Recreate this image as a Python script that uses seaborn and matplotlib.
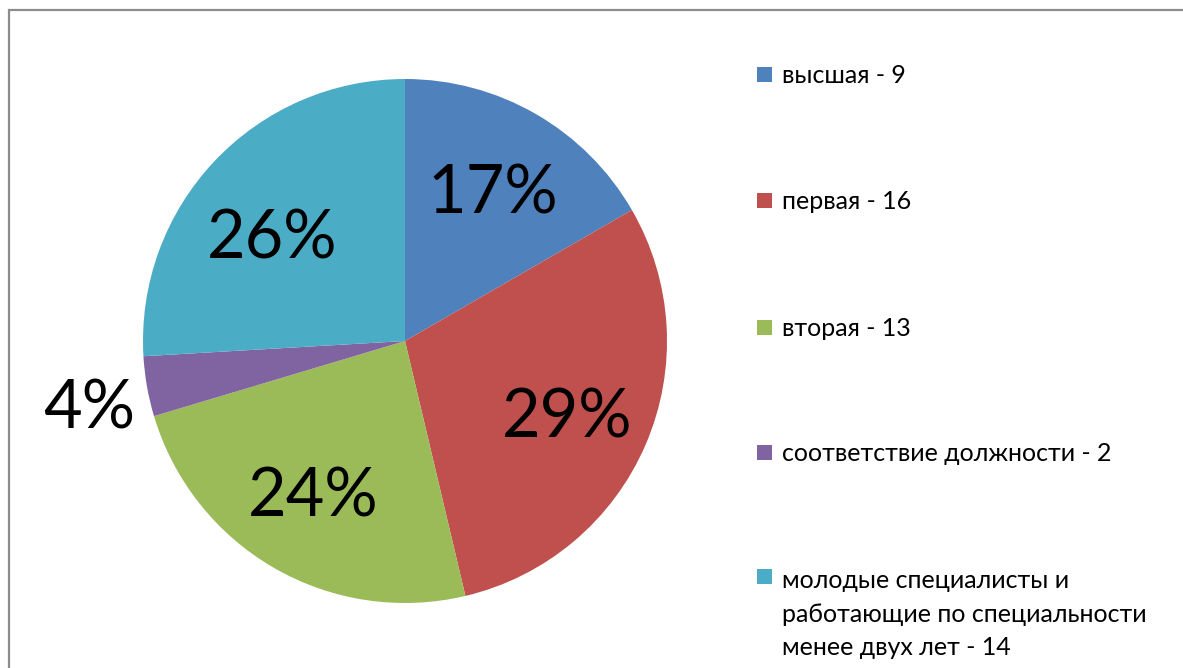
import matplotlib
matplotlib.use('Agg')

import numpy as np
import matplotlib.pyplot as plt
import seaborn as sns
from matplotlib.patches import Rectangle

# данные с диаграммы
categories = ["высшая - 9", "первая - 16", "вторая - 13",
              "соответствие должности - 2",
              "молодые специалисты и\nработающие по специальности\nменее двух лет - 14"]
counts = [9, 16, 13, 2, 14]
pct_labels = ["17%", "29%", "24%", "4%", "26%"]
colors = ["#4F81BD", "#C0504D", "#9BBB59", "#8064A2", "#4BACC6"]

# размещение подписей (доля радиуса, сдвиг угла в градусах)
label_dist = [0.668, 0.676, 0.678, 1.23, 0.649]
label_shift = [0, -0.7, -1.2, 1.4, 4.7]

sns.set_theme(style="white")
plt.rcParams['font.family'] = ['Lato', 'DejaVu Sans']

W, H = 1183, 668
fig = plt.figure(figsize=(W / 100, H / 100), dpi=100)

# рамка области диаграммы
fig.patches.append(Rectangle((9 / W, -0.1), 1.2, 1 - 10 / H + 0.1,
                             transform=fig.transFigure, fill=False,
                             edgecolor="#8c8c8c", linewidth=1.6))

cx, cy, r = 405, 341, 262
ax = fig.add_axes([(cx - r) / W, (H - cy - r) / H, 2 * r / W, 2 * r / H])
wedges, _ = ax.pie(counts, colors=colors, startangle=90, counterclock=False,
                   wedgeprops=dict(linewidth=0))
ax.set_xlim(-1, 1)
ax.set_ylim(-1, 1)
ax.set_aspect('equal')
ax.axis('off')

# подписи долей (базовая линия на половину высоты цифр ниже центра)
half_digit = 24 / r
for w, lab, d, sh in zip(wedges, pct_labels, label_dist, label_shift):
    mid = np.deg2rad((w.theta1 + w.theta2) / 2 + sh)
    ax.text(d * np.cos(mid), d * np.sin(mid) - half_digit, lab,
            ha='center', va='baseline', fontsize=48, color='black', clip_on=False)

# легенда
ys = [74, 200, 327, 452, 576]
line_step = 35
for lab, c, y in zip(categories, colors, ys):
    fig.patches.append(Rectangle((757 / W, 1 - (y + 7.5) / H), 15 / W, 15 / H,
                                 transform=fig.transFigure, facecolor=c,
                                 edgecolor='none'))
    n_extra = lab.count('\n')
    fig.text(782 / W, 1 - (y + 9 + n_extra * line_step) / H, lab,
             ha='left', va='baseline', fontsize=18, color='black',
             linespacing=1.55)

plt.savefig("out.png", dpi=100)
